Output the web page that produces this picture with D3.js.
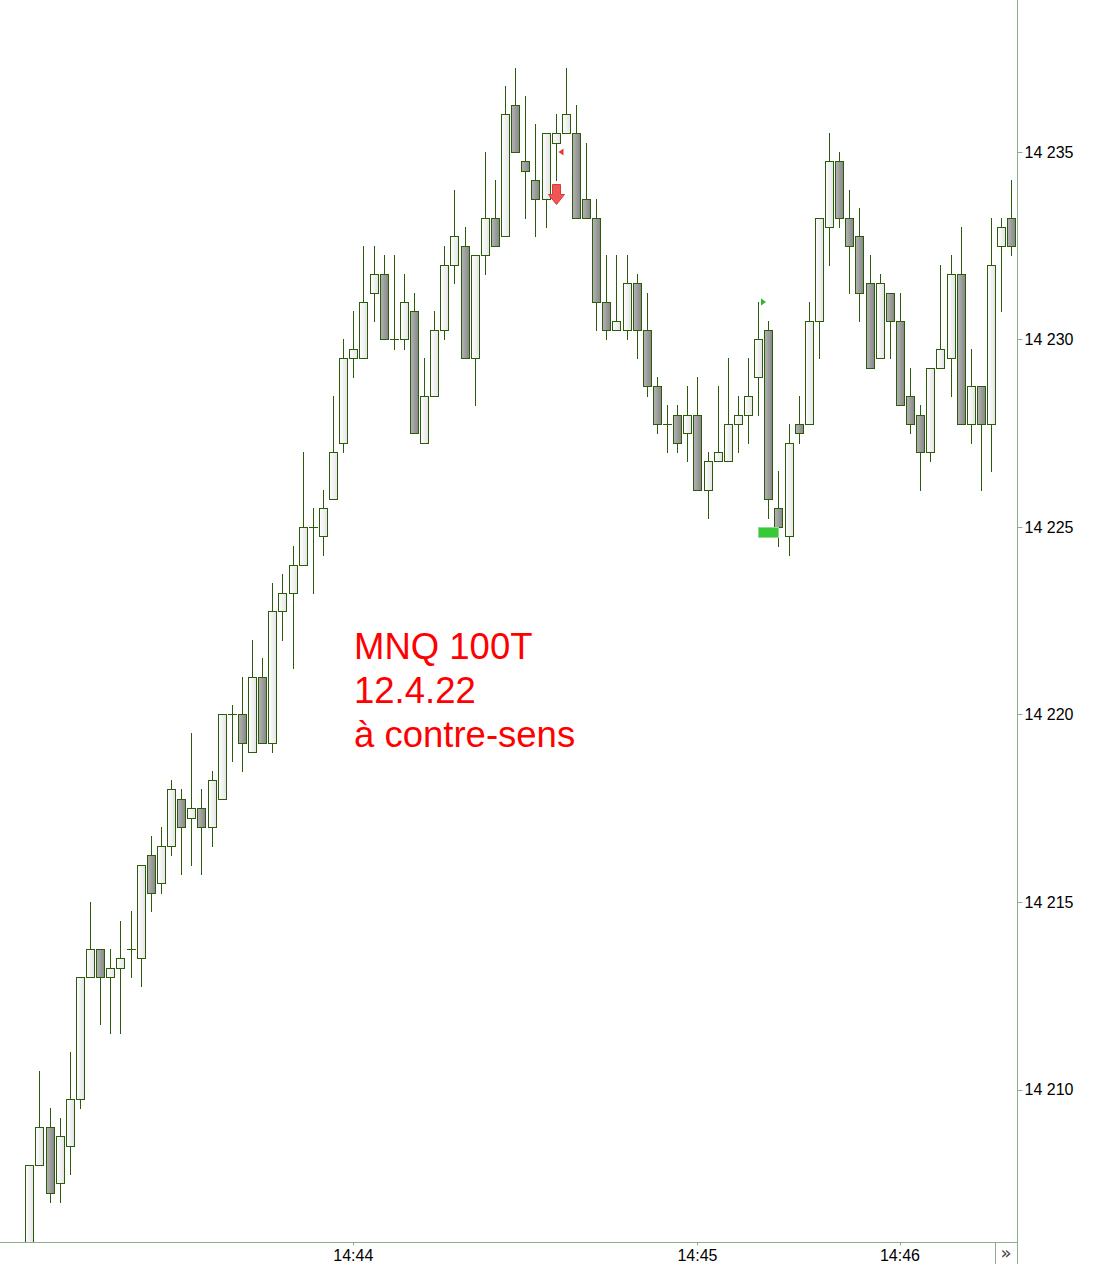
<!DOCTYPE html>
<html><head><meta charset="utf-8">
<script src="https://cdn.jsdelivr.net/npm/d3@7"></script>
<style>html,body{margin:0;padding:0;background:#fff;} svg{display:block;}</style>
</head><body>
<svg id="c" width="1096" height="1264"></svg>
<script>
const opens  = [14205.25,14208,14209,14207.5,14208.5,14209.75,14213,14213.75,14213,14213.25,
14213.75,14213.5,14216.25,14215.5,14216.5,14217.75,14217.25,14217.5,14217,14217.75,
14220,14220,14219,14221,14219.25,14222.75,14223.25,14224,14225,14224.75,
14225.75,14227.25,14229.5,14229.5,14231.25,14231.75,14230,14230,14230.75,14227.25,
14228.5,14230.25,14232,14232.5,14229.5,14232.25,14233.25,14232.75,14236.25,14234.75,
14234.25,14233.75,14235.25,14235.5,14235.5,14233.75,14233.25,14231,14230.25,14230.25,
14231.5,14230.25,14228.75,14227.75,14228,14227.5,14228,14226,14226.75,14226.75,
14227.75,14228,14229,14230.25,14225.5,14224.75,14227.75,14227.75,14230.5,14233,
14234.75,14233.25,14232.75,14231.5,14229.5,14231.25,14230.5,14228.5,14228,14227,
14229.25,14229.5,14231.75,14227.75,14228.75,14227.75,14232.5,14233.25];
const highs  = [14208,14210.5,14209.5,14209.25,14211,14213,14215,14213.75,14213.75,14214.5,
14214.75,14216,14216.75,14217,14218.25,14218,14219.5,14218,14218.5,14220,
14220.25,14221,14222,14221.5,14223.5,14223.75,14224.5,14227,14225.5,14226,
14228.5,14230,14230.75,14232.5,14232.5,14232.25,14232.25,14231.75,14231.25,14229.5,
14230.75,14232.5,14234,14233,14232.25,14235,14234.25,14236.75,14237.25,14236.5,
14235.75,14235.5,14236,14237.25,14236.25,14235.25,14233.75,14232.25,14232.25,14232.25,
14231.75,14231.25,14229,14228.25,14228.25,14228.75,14229,14227,14228.75,14229.5,
14228.5,14229.5,14231,14230.5,14226.5,14227.75,14228.5,14231,14233.25,14235.5,
14235,14234,14233.5,14232.25,14231.75,14231.25,14231.25,14229.25,14228.25,14229.25,
14232,14232.25,14233,14229.75,14228.75,14233.25,14233.25,14234.25];
const lows   = [14205.25,14208,14207,14207,14207.75,14209.5,14213,14211.75,14211.5,14211.5,
14213,14212.75,14214.75,14215.25,14216.25,14215.75,14216,14215.75,14216.5,14217.75,
14218.75,14218.5,14219,14219.25,14219,14222,14221.25,14224,14223.25,14224.25,
14225.75,14227,14229,14229.5,14230.5,14230,14229.75,14229.75,14227.5,14227.25,
14228.5,14230,14231.5,14229.5,14228.25,14231.75,14232.5,14232.75,14235,14233.25,
14232.75,14233,14234.25,14235.5,14233.25,14233.25,14230.25,14230,14230.25,14230,
14229.5,14228.5,14227.5,14227,14227,14226.75,14226,14225.25,14226.75,14226.75,
14227,14227.25,14228,14225.25,14224.5,14224.25,14227.25,14227.75,14229.5,14232,
14233,14231.25,14230.5,14229.25,14229.5,14229.5,14228.25,14227.5,14226,14226.75,
14229.25,14228.5,14227.75,14227.25,14226,14226.5,14230.75,14232.25];
const closes = [14208,14209,14207.25,14208.75,14209.75,14213,14213.75,14213,14213.25,14213.5,
14213.75,14216,14215.25,14216.5,14218,14217,14217.5,14217,14218.25,14220,
14220,14219.25,14221,14219.25,14222.75,14223.25,14224,14225,14225,14225.5,
14227,14229.5,14229.75,14231,14231.75,14230,14230,14231,14227.5,14228.5,
14230.25,14232,14232.75,14229.5,14232.25,14233.25,14232.5,14236,14235,14234.5,
14233.75,14235.5,14235.5,14236,14233.25,14233.25,14231,14230.25,14230.5,14231.5,
14230.25,14228.75,14227.75,14227.75,14227.25,14228,14226,14226.75,14227,14227.75,
14228,14228.5,14230,14225.75,14225,14227.25,14227.5,14230.5,14233.25,14234.75,
14233.25,14232.5,14231.25,14229.25,14231.5,14230.5,14228.25,14227.75,14227,14229.25,
14229.75,14231.75,14227.75,14228.75,14227.75,14232,14233,14232.5];

const timeLabels = ["14:44","14:45","14:46"];
const timeLabelIndex = [32,66,86];
const priceTicks = [14210,14215,14220,14225,14230,14235];
const noteLines = ["MNQ 100T","12.4.22","à contre-sens"];
const sellArrow = {i:52, price:14233.6};
const sellMark = {i:53, price:14235};
const buyMark = {i:72, price:14231};
const buyZone = {i0:72, i1:74, price:14225};

const W = 1096, H = 1264;
const axisX = 1017.5, axisY = 1242.5;
const n = opens.length;
const candles = d3.range(n).map(i => ({i, o:opens[i], h:highs[i], l:lows[i], c:closes[i]}));

const x = d3.scalePoint().domain(d3.range(n)).range([29.3, 1011.3]);
const y = d3.scaleLinear().domain([14210, 14235]).range([1089.5, 152]);
const px = v => Math.round(v);
const py = v => Math.round(y(v)) + 0.5;

const svg = d3.select("#c");
const defs = svg.append("defs");
const gW = defs.append("linearGradient").attr("id","gw").attr("x1","0").attr("x2","1").attr("y1","0").attr("y2","0");
gW.append("stop").attr("offset","0").attr("stop-color","#ffffff");
gW.append("stop").attr("offset","1").attr("stop-color","#e4e4e4");
const gB = defs.append("linearGradient").attr("id","gb").attr("x1","0").attr("x2","1").attr("y1","0").attr("y2","0");
gB.append("stop").attr("offset","0").attr("stop-color","#b4b4b4");
gB.append("stop").attr("offset","1").attr("stop-color","#868686");
defs.append("clipPath").attr("id","plot").append("rect").attr("x",0).attr("y",0).attr("width",axisX).attr("height",axisY);

const stroke = "#2b5c0c";
const plot = svg.append("g").attr("clip-path","url(#plot)");

// wicks
plot.append("g").selectAll("line").data(candles).join("line")
  .attr("x1", d => px(x(d.i)) + 0.5).attr("x2", d => px(x(d.i)) + 0.5)
  .attr("y1", d => py(d.h) - 0.5).attr("y2", d => py(d.l) + 0.5)
  .attr("stroke", stroke).attr("stroke-width", 1);

// bodies
const bodies = candles.filter(d => d.o !== d.c);
plot.append("g").selectAll("rect").data(bodies).join("rect")
  .attr("x", d => px(x(d.i)) - 3.5)
  .attr("width", 8)
  .attr("y", d => py(Math.max(d.o, d.c)))
  .attr("height", d => py(Math.min(d.o, d.c)) - py(Math.max(d.o, d.c)))
  .attr("fill", d => d.c > d.o ? "url(#gw)" : "url(#gb)")
  .attr("stroke", stroke).attr("stroke-width", 1);

// doji
const dojis = candles.filter(d => d.o === d.c);
plot.append("g").selectAll("line").data(dojis).join("line")
  .attr("x1", d => px(x(d.i)) - 4).attr("x2", d => px(x(d.i)) + 5)
  .attr("y1", d => py(d.c)).attr("y2", d => py(d.c))
  .attr("stroke", stroke).attr("stroke-width", 1);

// signals
{
  const cx = px(x(sellArrow.i)) + 0.5, tip = y(sellArrow.price);
  const pts = [[cx-4,tip-20],[cx+4,tip-20],[cx+4,tip-10],[cx+8,tip-10],[cx,tip],[cx-8,tip-10],[cx-4,tip-10]];
  svg.append("path").attr("d", d3.line()(pts) + "Z")
    .attr("fill","#f25555").attr("stroke","#d63a3a").attr("stroke-width",1);
}
{
  const tx = px(x(sellMark.i)) - 7.5, ty = y(sellMark.price);
  svg.append("path").attr("d", d3.line()([[tx,ty],[tx+5,ty-3.5],[tx+5,ty+3.5]]) + "Z")
    .attr("fill","#e03a3a");
}
{
  const tx = px(x(buyMark.i)) + 3, ty = y(buyMark.price);
  svg.append("path").attr("d", d3.line()([[tx+5,ty],[tx,ty-3.5],[tx,ty+3.5]]) + "Z")
    .attr("fill","#2fb52f");
}
{
  const x0 = px(x(buyZone.i0)), x1 = px(x(buyZone.i1));
  const yt = Math.round(y(buyZone.price));
  svg.append("rect").attr("x", x0 + 0.5).attr("y", yt + 0.5).attr("width", x1 - x0).attr("height", 10)
    .attr("fill","#38c838").attr("stroke","#8fdc8f").attr("stroke-width",1);
}

// note text
const note = svg.append("text").attr("x",354).attr("y",659)
  .attr("font-family","'Liberation Sans', Arial, sans-serif").attr("font-size",36.5).attr("fill","#ff0000");
note.selectAll("tspan").data(noteLines).join("tspan")
  .attr("x",354).attr("dy",(d,i) => i === 0 ? 0 : 44).text(d => d);

// axes
const axisColor = "#8bae8b";
svg.append("line").attr("x1",axisX).attr("x2",axisX).attr("y1",0).attr("y2",H).attr("stroke",axisColor);
svg.append("line").attr("x1",0).attr("x2",axisX).attr("y1",axisY).attr("y2",axisY).attr("stroke",axisColor);

const fmt = v => { const s = String(v); return s.slice(0, s.length-3) + " " + s.slice(-3); };
const ya = svg.append("g").attr("font-family","'Liberation Sans', Arial, sans-serif").attr("font-size",16);
ya.selectAll("line").data(priceTicks).join("line")
  .attr("x1",axisX).attr("x2",axisX+5).attr("y1",d=>py(d)).attr("y2",d=>py(d)).attr("stroke",axisColor);
ya.selectAll("text").data(priceTicks).join("text")
  .attr("x",axisX+7).attr("y",d=>y(d)).attr("dy","0.36em").attr("fill","#000").text(fmt);

const xa = svg.append("g").attr("font-family","'Liberation Sans', Arial, sans-serif").attr("font-size",16);
xa.selectAll("line").data(timeLabelIndex).join("line")
  .attr("x1",d=>px(x(d))+0.5).attr("x2",d=>px(x(d))+0.5).attr("y1",axisY).attr("y2",axisY+3).attr("stroke",axisColor);
xa.selectAll("text").data(timeLabels).join("text")
  .attr("x",(d,i)=>x(timeLabelIndex[i])).attr("y",1261).attr("text-anchor","middle").attr("fill","#000").text(d=>d);

// scroll button
svg.append("line").attr("x1",995.5).attr("x2",995.5).attr("y1",axisY).attr("y2",H).attr("stroke",axisColor);
svg.append("text").attr("x",1006).attr("y",1259).attr("text-anchor","middle")
  .attr("font-family","'DejaVu Sans', sans-serif").attr("font-size",18).attr("fill","#444").text("»");
</script>
</body></html>
